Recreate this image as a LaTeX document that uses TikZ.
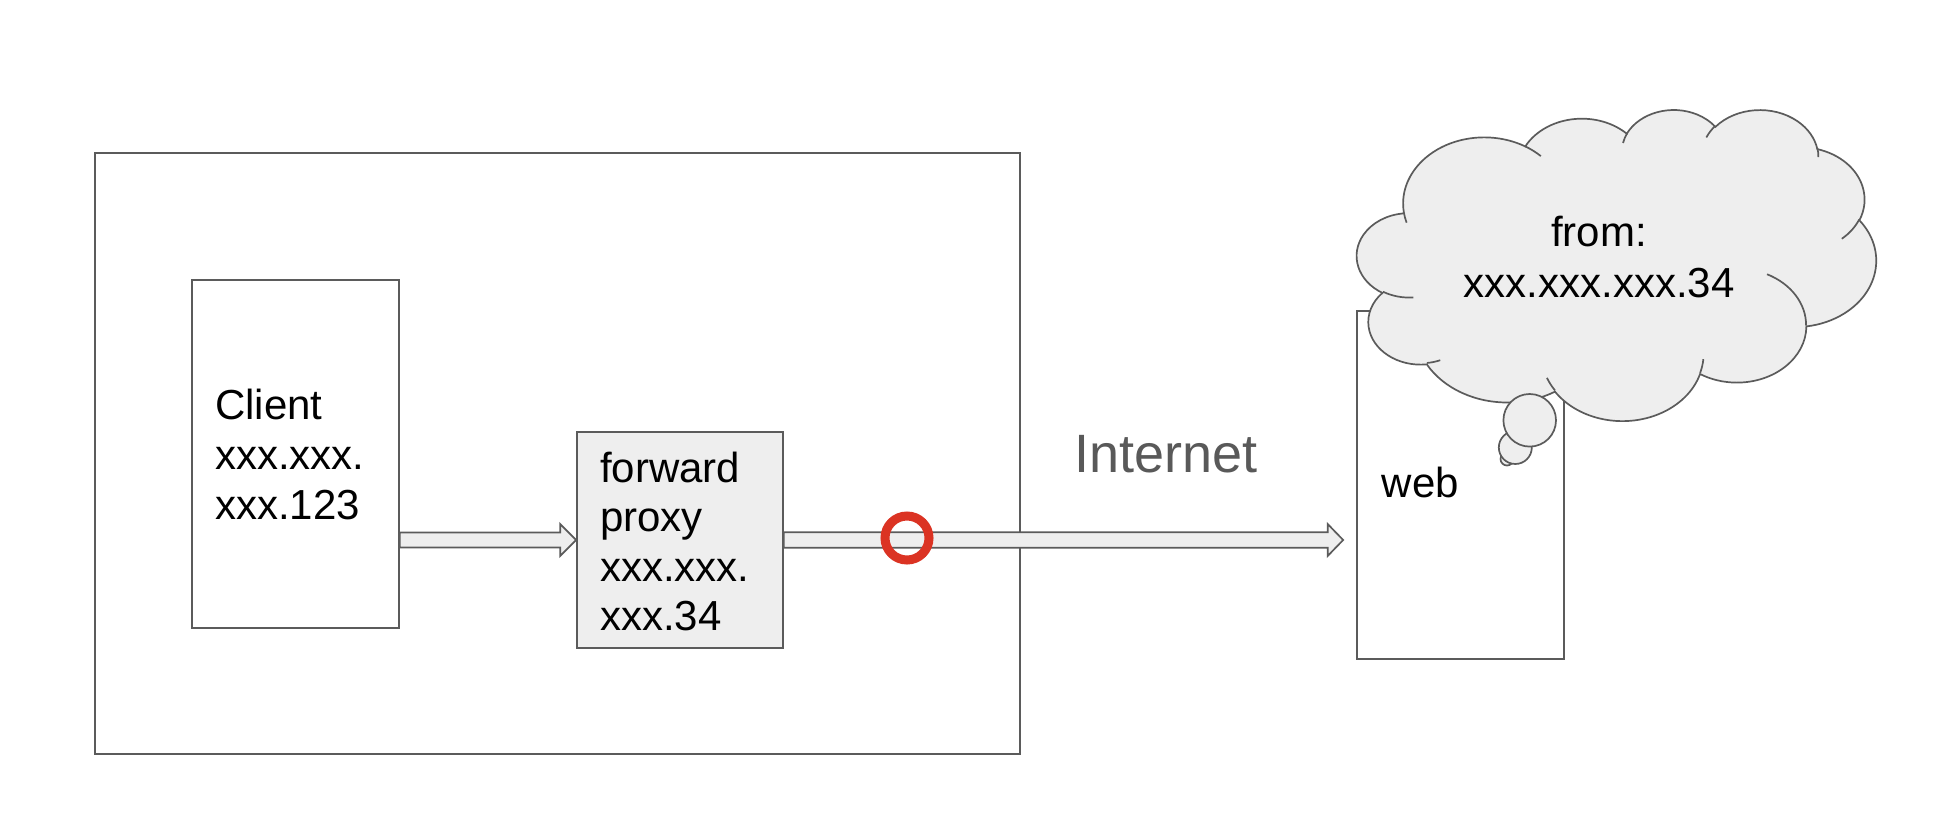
\documentclass[tikz,border=0pt]{standalone}
\usepackage{fontspec}
\setmainfont{Liberation Sans}
\usetikzlibrary{calc}

\definecolor{edge}{HTML}{5B5B5B}
\definecolor{shade}{HTML}{EEEEEE}
\definecolor{stopmark}{HTML}{DB3323}
\definecolor{netlabel}{HTML}{595959}

% One bump of the cloud outline: elliptic arc with radii #1,#2,
% from visual angle #3 sweeping #4 degrees (converted to parametric angles)
\newcommand\puff[4]{arc[x radius=#1, y radius=#2,
  start angle={atan2(#1*sin(#3),#2*cos(#3))},
  delta angle={mod(atan2(#1*sin(#3+#4),#2*cos(#3+#4))-atan2(#1*sin(#3),#2*cos(#3))+720,360)}]}

\tikzset{
  box/.style={draw=edge, line width=1.7pt, inner sep=0pt},
  shadedbox/.style={box, fill=shade},
  blockarrow/.style={draw=edge, fill=shade, line width=1.7pt, line join=miter},
  cloudfill/.style={draw=edge, fill=shade, line width=1.7pt},
  crease/.style={draw=edge, line width=1.7pt},
  txt/.style={inner sep=0pt, font=\fontsize{42}{50}\selectfont},
  ring/.style={circle, draw=stopmark, line width=9pt, minimum size=44pt, inner sep=0pt},
}

\begin{document}
\begin{tikzpicture}[x=1pt, y=-1pt]
\useasboundingbox (0,0) rectangle (1934,818);

% local network and its machines
\node[box, minimum width=925pt, minimum height=601pt] (lan) at (557.5,453.5) {};
\node[box, minimum width=207pt, minimum height=348pt] (client) at (295.5,454) {};
\node[shadedbox, minimum width=206pt, minimum height=216pt] (proxy) at (680,540) {};

\node[txt, anchor=base west] (clientlbl) at (215,419)
  {\begin{tabular}[t]{@{}l@{}}Client\\xxx.xxx.\\xxx.123\end{tabular}};
\node[txt, anchor=base west, font=\fontsize{42}{49.5}\selectfont] (proxylbl) at (600,482)
  {\begin{tabular}[t]{@{}l@{}}forward\\proxy\\xxx.xxx.\\xxx.34\end{tabular}};

% remote web server
\node[box, minimum width=207pt, minimum height=348pt] (web) at (1460.5,485) {};
\node[txt, anchor=base west] (weblbl) at (1381.7,497) {web};

% request path
\coordinate (lane) at (0,540);
\draw[blockarrow] let \p1=(client.east |- lane), \p2=(proxy.west |- lane) in
  (\x1,\y1+7.5pt) -- (\x2-16pt,\y1+7.5pt) -- (\x2-16pt,\y1+16pt) -- (\x2,\y2)
  -- (\x2-16pt,\y1-16pt) -- (\x2-16pt,\y1-7.5pt) -- (\x1,\y1-7.5pt) -- cycle;
\draw[blockarrow] let \p1=(proxy.east |- lane), \p2=(web.west |- lane) in
  (\x1,\y1+7.7pt) -- (\x2-28.5pt,\y1+7.7pt) -- (\x2-28.5pt,\y1+16pt) -- (\x2-13pt,\y2)
  -- (\x2-28.5pt,\y1-16pt) -- (\x2-28.5pt,\y1-7.7pt) -- (\x1,\y1-7.7pt) -- cycle;

\node[ring] (exit) at (907,538) {};

\node[inner sep=0pt, anchor=base west, text=netlabel, font=\fontsize{54}{60}\selectfont]
  (internet) at (1074,472) {Internet};

% thought cloud above the server
\begin{scope}[shift={(1357,109)}, x=1.2014pt, y=-0.7199pt]
\path[cloudfill] (39,143.7)
  \puff{67.53}{91.90}{-190.4875}{123.7805}
  \puff{53.33}{72.67}{-144.1024}{89.9452}
  \puff{43.65}{59.45}{-145.8079}{99.7230}
  \puff{48.57}{65.95}{-130.9861}{117.2417}
  \puff{53.33}{72.73}{-78.7089}{109.0269}
  \puff{67.75}{92.20}{-46.2673}{130.2690}
  \puff{57.85}{78.67}{0.6250}{114.0333}
  \puff{67.52}{92.15}{22.4516}{115.1726}
  \puff{77.20}{105.43}{66.2426}{75.7110}
  \puff{43.60}{59.18}{-274.9421}{146.7356}
  \puff{43.45}{59.45}{-246.8285}{152.5189} -- cycle;
\path[crease]
  (46.93,261.77) \puff{43.45}{59.45}{86.742}{26.4295}
  (69.28,348.99) \puff{43.60}{59.18}{73.6105}{11.4475}
  (164.78,390.90) \puff{67.52}{92.15}{137.6242}{14.0811}
  (288.27,347.51) \puff{67.52}{92.15}{6.4533}{15.9984}
  (341.29,229.54) \puff{57.85}{78.67}{-70.2924}{70.9174}
  (417.98,153.54) \puff{53.33}{72.73}{30.318}{27.7515}
  (383.24,54.26) \puff{48.57}{65.95}{-13.7443}{14.8589}
  (290.78,39.52) \puff{48.57}{65.95}{-149.1815}{18.1954}
  (221.41,47.20) \puff{43.65}{59.45}{-163.4943}{17.6864}
  (140.00,51.92) \puff{67.53}{91.90}{-66.707}{12.3194}
  (41.27,157.89) \puff{67.53}{91.90}{157.6544}{11.8582};
\end{scope}

\draw[cloudfill] (1507,459) circle[radius=6.5pt];
\draw[cloudfill] (1515.3,447.5) circle[radius=16.5pt];
\draw[cloudfill] (1529.7,420.3) circle[radius=26.3pt];

\node[txt, anchor=base, font=\fontsize{42}{51}\selectfont] (cloudlbl) at (1599,247)
  {\begin{tabular}[t]{@{}c@{}}from:\\xxx.xxx.xxx.34\end{tabular}};
\end{tikzpicture}
\end{document}
